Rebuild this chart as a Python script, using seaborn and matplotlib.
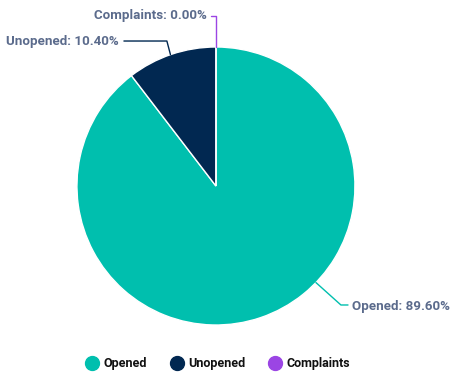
import matplotlib
matplotlib.use("Agg")
import matplotlib.pyplot as plt
from matplotlib.lines import Line2D
import numpy as np
import seaborn as sns

# datos
categorias = ["Opened", "Unopened", "Complaints"]
porcentajes = [89.60, 10.40, 0.00]
colores = ["#00BFAE", "#012851", "#9B45E4"]

sns.set_theme(style="white")
plt.rcParams['font.family'] = ['Roboto', 'DejaVu Sans']
paleta = sns.color_palette(colores)

fig = plt.figure(figsize=(4.58, 3.89), dpi=100)
ax = fig.add_axes([0.168, 0.1645, 0.607, 0.7147])

ax.pie(porcentajes, colors=paleta, startangle=90, counterclock=False,
       radius=1.0, wedgeprops={'edgecolor': 'white', 'linewidth': 1.0})
ax.set_xlim(-1, 1)
ax.set_ylim(-1, 1)
ax.set_aspect('equal')
ax.axis('off')

# etiquetas con lineas guia: (angulo de anclaje, codo, fin, posicion texto, alineacion)
guias = [
    (-44.0, (0.899, -0.856), (0.95, -0.856), (0.978, -0.868), 'left'),
    (109.1, (-0.353, 1.043), (-0.662, 1.043), (-0.698, 1.036), 'right'),
    (90.0, (0.0, 1.223), (-0.036, 1.223), (-0.065, 1.223), 'right'),
]
color_texto = "#5B6B8C"
for cat, val, col, (ang, codo, fin, pos, ha) in zip(categorias, porcentajes, colores, guias):
    a = np.deg2rad(ang)
    x0, y0 = np.cos(a), np.sin(a)
    ax.plot([x0, codo[0], fin[0]], [y0, codo[1], fin[1]], color=col,
            linewidth=1.0, clip_on=False)
    ax.text(pos[0], pos[1], f"{cat}: {val:.2f}%", ha=ha, va='center',
            fontsize=9.6, fontweight='bold', color=color_texto, clip_on=False)

handles = [Line2D([0], [0], marker='o', linestyle='', markersize=10,
                  markerfacecolor=c, markeredgecolor=c, label=l)
           for l, c in zip(categorias, colores)]
leg = fig.legend(handles=handles, loc='center', ncol=3, frameon=False,
                 bbox_to_anchor=(218 / 458, 1 - 364 / 389),
                 prop={'weight': 'bold', 'size': 9}, handletextpad=0.4,
                 columnspacing=1.9, handlelength=1.0)
for t in leg.get_texts():
    t.set_color("#111111")

fig.savefig("out.png", dpi=100)
